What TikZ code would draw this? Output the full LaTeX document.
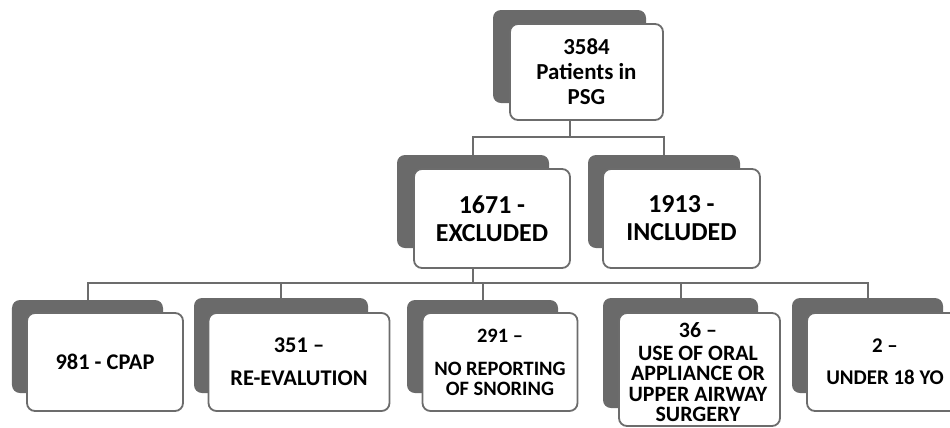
\documentclass[tikz,border=0pt]{standalone}
\usepackage{fontspec}
\setmainfont{Carlito}
\definecolor{shade}{RGB}{106,106,106}
\definecolor{edge}{RGB}{108,108,108}
\begin{document}
\begin{tikzpicture}[x=1bp,y=-1bp,
  back/.style={rectangle,rounded corners=8bp,fill=shade,draw=none,inner sep=0pt},
  front/.style={rectangle,rounded corners=8bp,fill=white,draw=edge,line width=1.8bp,inner sep=0pt,align=center},
  conn/.style={draw=edge,line width=2bp},
  fa/.style={font=\fontsize{23}{25}\selectfont\bfseries},
  fb/.style={font=\fontsize{26}{28}\selectfont\bfseries},
  fc/.style={font=\fontsize{22.5}{23}\selectfont\bfseries},
  fe/.style={font=\fontsize{21}{22}\selectfont\bfseries},
  fg/.style={font=\fontsize{20.5}{20}\selectfont\bfseries},
  fd/.style={font=\fontsize{22}{20.5}\selectfont\bfseries,align=center,inner sep=0pt}]
\useasboundingbox (0,0) rectangle (950,427);
\clip (0,0) rectangle (950,427);
% top
\node[back,minimum width=153bp,minimum height=93bp] (topD) at (569.5,56.5) {};
\node[front,fa,minimum width=153bp,minimum height=96bp] (topF) at (586.5,72) {3584\\Patients in\\PSG};
% middle
\node[back,minimum width=152bp,minimum height=93bp] (exD) at (473,201.5) {};
\node[front,fb,minimum width=156bp,minimum height=99bp] (exF) at (492,218.5) {1671 -\\EXCLUDED};
\node[back,minimum width=152bp,minimum height=93bp] (inD) at (664,201.5) {};
\node[front,fb,minimum width=157bp,minimum height=99bp] (inF) at (681.5,218.5) {1913 -\\INCLUDED};
% bottom
\node[back,minimum width=151bp,minimum height=93bp] (b1D) at (87.5,346.5) {};
\node[front,fc,minimum width=156bp,minimum height=98bp] (b1F) at (105,362) {981 - CPAP};
\node[back,minimum width=174bp,minimum height=95bp] (b2D) at (281,345.5) {};
\node[front,fc,minimum width=181bp,minimum height=98bp] (b2F) at (299,362) {351 --\\[10bp]RE-EVALUTION};
\node[back,minimum width=151bp,minimum height=93bp] (b3D) at (482.5,346.5) {};
\node[front,fg,minimum width=155bp,minimum height=98bp] (b3F) at (500,362) {291 --\\[13bp]NO REPORTING\\OF SNORING};
\node[back,minimum width=155bp,minimum height=110bp] (b4D) at (680.5,353) {};
\node[front,minimum width=161bp,minimum height=113bp] (b4F) at (699.5,369.5) {};
\node[fd] (b4T) at (698,372) {36 --\\[2.5bp]USE OF ORAL\\APPLIANCE OR\\UPPER AIRWAY\\SURGERY};
\node[back,minimum width=151bp,minimum height=95bp] (b5D) at (867.5,345.5) {};
\node[front,fe,minimum width=156bp,minimum height=98bp] (b5F) at (885,362) {2 --\\[10bp]UNDER 18 YO};
% connectors
\coordinate (j1) at (569.5,137);
\coordinate (j2) at (473,283);
\draw[conn] (topD |- topF.south) -- (j1);
\draw[conn] (exD.north) |- (j1) -| (inD.north);
\draw[conn] (exD |- exF.south) -- (j2);
\draw[conn] (b1D.north) |- (j2) -| (b5D.north);
\draw[conn] (b2D.north) -- (b2D.north |- j2);
\draw[conn] (b3D.north) -- (b3D.north |- j2);
\draw[conn] (b4D.north) -- (b4D.north |- j2);
\end{tikzpicture}
\end{document}
